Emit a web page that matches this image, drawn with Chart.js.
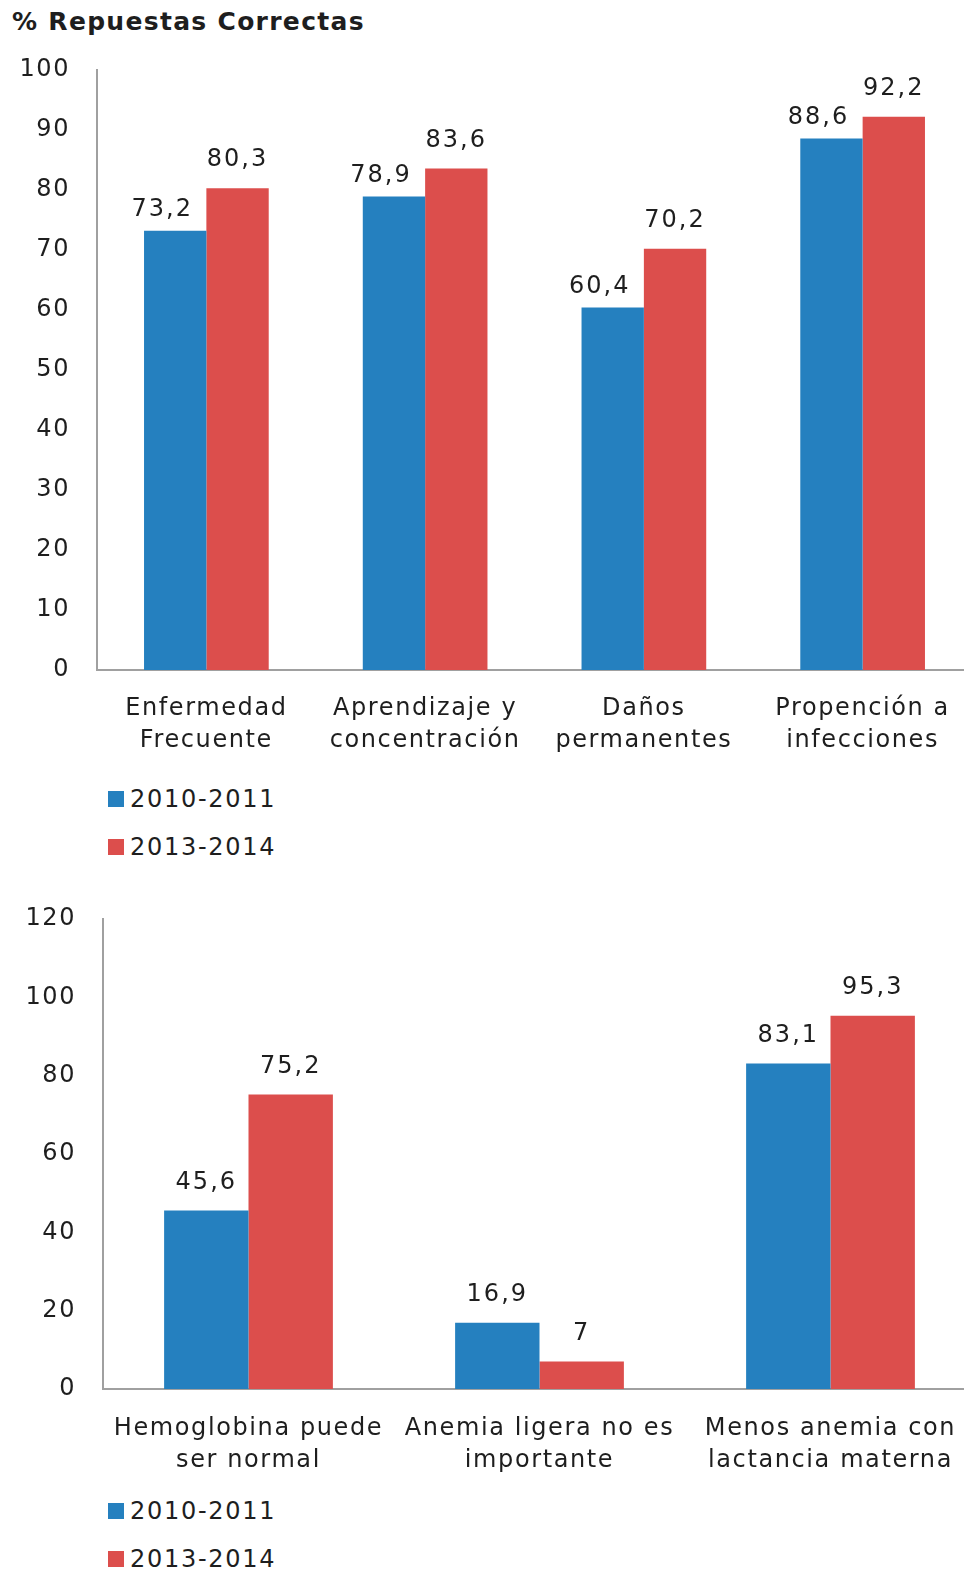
<!DOCTYPE html>
<html>
<head>
<meta charset="utf-8">
<script src="https://cdn.jsdelivr.net/npm/chart.js@4.4.1/dist/chart.umd.min.js"></script>
<style>
  html, body { margin: 0; padding: 0; background: #fff; overflow: hidden; }
  body { width: 964px; height: 1571px; position: relative; font-family: 'DejaVu Sans', sans-serif; color: #1e1e1e; }
  .title { position: absolute; left: 12px; top: 7px; font-size: 25px; font-weight: bold; letter-spacing: 1.3px; }
  .box { position: absolute; left: 0; }
  .legend { position: absolute; left: 108px; font-size: 24px; letter-spacing: 1.7px; }
  .legend div { height: 48px; line-height: 24px; }
  .legend span { display: inline-block; width: 16px; height: 16px; margin-right: 6px; vertical-align: 0px; }
</style>
</head>
<body>
<div class="title">% Repuestas Correctas</div>
<div class="box" style="top:0; width:972px; height:770px;"><canvas id="chartTop"></canvas></div>
<div class="legend" style="top:787px;">
  <div><span style="background:#2580BF"></span>2010-2011</div>
  <div><span style="background:#DC4E4C"></span>2013-2014</div>
</div>
<div class="box" style="top:880px; width:976px; height:600px;"><canvas id="chartBottom"></canvas></div>
<div class="legend" style="top:1499px;">
  <div><span style="background:#2580BF"></span>2010-2011</div>
  <div><span style="background:#DC4E4C"></span>2013-2014</div>
</div>

<script>
// top chart: consequences
var topLabels = [
    ['Enfermedad', 'Frecuente'],
    ['Aprendizaje y', 'concentración'],
    ['Daños', 'permanentes'],
    ['Propención a', 'infecciones']
];
var top2010 = [73.2, 78.9, 60.4, 88.6];
var top2013 = [80.3, 83.6, 70.2, 92.2];

// bottom chart: anemia beliefs
var bottomLabels = [
    ['Hemoglobina puede', 'ser normal'],
    ['Anemia ligera no es', 'importante'],
    ['Menos anemia con', 'lactancia materna']
];
var bottom2010 = [45.6, 16.9, 83.1];
var bottom2013 = [75.2, 7, 95.3];

var seriesNames = ['2010-2011', '2013-2014'];
var blue = '#2580BF';
var red = '#DC4E4C';

Chart.defaults.font.family = "'DejaVu Sans', sans-serif";
Chart.defaults.color = '#1e1e1e';

// wider tracking for all canvas text
var spacing = {
    id: 'spacing',
    beforeInit: function(chart) { chart.ctx.letterSpacing = '1.6px'; },
    beforeDraw: function(chart) { chart.ctx.letterSpacing = '1.6px'; }
};

// writes the value above each bar, comma as decimal mark;
// shift gives per-series [dx, dy] offsets from the bar top
var valueLabels = {
    id: 'valueLabels',
    afterDatasetsDraw: function(chart, args, opts) {
        var ctx = chart.ctx;
        var shift = opts.shift || [[0, -28], [0, -28]];
        ctx.save();
        ctx.letterSpacing = '2px';
        ctx.font = '24px "DejaVu Sans"';
        ctx.fillStyle = '#1e1e1e';
        ctx.textAlign = 'center';
        ctx.textBaseline = 'middle';
        chart.data.datasets.forEach(function(ds, i) {
            chart.getDatasetMeta(i).data.forEach(function(bar, j) {
                ctx.fillText(String(ds.data[j]).replace('.', ','), bar.x + shift[i][0], bar.y + shift[i][1]);
            });
        });
        ctx.restore();
    }
};

function makeChart(id, labels, a, b, max, step, yWidth, xHeight, topPad, catPct, xPad, shift) {
    return new Chart(document.getElementById(id), {
        type: 'bar',
        data: {
            labels: labels,
            datasets: [
                { label: seriesNames[0], data: a, backgroundColor: blue },
                { label: seriesNames[1], data: b, backgroundColor: red }
            ]
        },
        options: {
            responsive: true,
            maintainAspectRatio: false,
            animation: false,
            categoryPercentage: catPct,
            barPercentage: 1,
            layout: { padding: { top: topPad, left: 0, right: 0, bottom: 0 } },
            plugins: {
                legend: { display: false },
                tooltip: { enabled: false },
                valueLabels: { shift: shift }
            },
            scales: {
                x: {
                    grid: { display: false },
                    border: { display: true, color: '#a0a0a0', width: 2 },
                    ticks: { font: { size: 24, lineHeight: 1.33 }, padding: xPad, maxRotation: 0, autoSkip: false },
                    afterFit: function(s) { s.height = xHeight; }
                },
                y: {
                    min: 0,
                    max: max,
                    grid: { display: false },
                    border: { display: true, color: '#a0a0a0', width: 2 },
                    ticks: { stepSize: step, font: { size: 24 }, padding: 19 },
                    afterFit: function(s) { s.width = yWidth; }
                }
            }
        },
        plugins: [spacing, valueLabels]
    });
}

makeChart('chartTop', topLabels, top2010, top2013, 100, 10, 97, 100, 70, 0.57, 15, [[-13, -21], [0, -28]]);
makeChart('chartBottom', bottomLabels, bottom2010, bottom2013, 120, 20, 103, 91, 39, 0.58, 16, [[0, -28], [0, -28]]);
</script>
</body>
</html>
